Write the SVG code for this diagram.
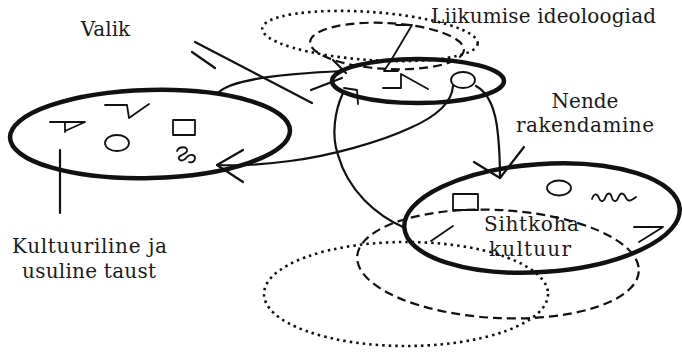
<svg xmlns="http://www.w3.org/2000/svg" width="682" height="352" viewBox="0 0 682 352">
  <style>
    text { font-family: "DejaVu Serif", "Liberation Serif", serif; font-size: 20px; fill: #1a1a1a; }
    .thick { fill: none; stroke: #111; stroke-width: 4.5; }
    .thin { fill: none; stroke: #111; stroke-width: 2.2; stroke-linecap: round; stroke-linejoin: round; }
    .sym { fill: none; stroke: #111; stroke-width: 1.8; stroke-linecap: round; stroke-linejoin: round; }
    .dotted { fill: none; stroke: #111; stroke-width: 2.6; stroke-dasharray: 2.5 4; }
    .dashed { fill: none; stroke: #111; stroke-width: 2.2; stroke-dasharray: 9 5; }
  </style>
  <rect width="682" height="352" fill="#ffffff"/>

  <g id="ideology-outlines">
    <ellipse class="dotted" cx="370" cy="36" rx="108" ry="24" transform="rotate(4 370 36)"/>
    <ellipse class="dashed" cx="387" cy="46" rx="77" ry="23" transform="rotate(3 387 46)"/>
    <path class="sym" d="M396,25 H412 L390,62 L384,71 H398"/>
  </g>

  <g id="destination-outlines">
    <ellipse class="dotted" cx="406" cy="294" rx="142" ry="52"/>
    <ellipse class="dashed" cx="498" cy="264" rx="141" ry="54" transform="rotate(3 498 264)"/>
  </g>

  <g id="background">
    <ellipse class="thick" cx="150" cy="134" rx="140" ry="44" transform="rotate(-1.5 150 134)"/>
    <path class="sym" d="M50,122 H85 L65,131 M65,122 V132"/>
    <path class="sym" d="M105,105 H127 L129,118 L149,104"/>
    <ellipse class="sym" cx="117" cy="143" rx="12" ry="8"/>
    <rect class="sym" x="173" y="120" width="22" height="15"/>
    <path class="sym" d="M177,151 C179,146 188,146 187,151 C186,155 177,155 179,159 C181,162 185,160 187,157 C189,154 195,154 195,158 C195,162 191,163 189,162"/>
    <path class="thin" d="M60,150 V213"/>
  </g>

  <g id="ideologies">
    <ellipse class="thick" cx="418" cy="81" rx="86" ry="22"/>
    <path class="sym" d="M383,88 H401 V74 L428,89"/>
    <path class="sym" d="M344,88 L357,90 L358,104"/>
    <ellipse class="sym" cx="463" cy="80" rx="12" ry="8"/>
  </g>

  <g id="destination">
    <ellipse class="thick" cx="542" cy="218" rx="138" ry="54" transform="rotate(-4 542 218)"/>
    <rect class="sym" x="453" y="194" width="25" height="16"/>
    <ellipse class="sym" cx="559" cy="188" rx="12" ry="7.5"/>
    <path class="sym" d="M592,199 C594,193 597,193 599,198 C601,203 604,202 606,196 C608,192 611,193 612,198 C614,203 617,202 619,196 C621,192 624,193 626,198 C628,202 631,201 636,197"/>
    <path class="sym" d="M431,241 L453,226"/>
    <path class="sym" d="M634,227 H663 L639,242"/>
  </g>

  <g id="connectors">
    <path class="thin" d="M218,93 C230,80 275,74 343,71"/>
    <path class="thin" d="M311,90 L342,78 M333,60 L346,73"/>
    <path class="thin" d="M195,42 L312,103 M192,52 L215,68"/>
    <path class="thin" d="M453,86 C452,100 440,115 410,128 C380,142 330,156 290,161 C260,165 235,166 217,165"/>
    <path class="thin" d="M243,150 L217,165 L243,182"/>
    <path class="thin" d="M476,86 C489,93 496,112 498,135 C500,155 500,168 500,178"/>
    <path class="thin" d="M474,162 L500,178 L524,147"/>
    <path class="thin" d="M343,93 C335,110 331,135 338,155 C348,190 375,215 405,228"/>
  </g>

  <g id="labels">
    <text x="105.5" y="36" text-anchor="middle">Valik</text>
    <text x="431" y="23" textLength="225" lengthAdjust="spacing">Liikumise  ideoloogiad</text>
    <text x="585" y="108" text-anchor="middle">Nende</text>
    <text x="516" y="132" textLength="138" lengthAdjust="spacing">rakendamine</text>
    <text x="12" y="253" textLength="155" lengthAdjust="spacing">Kultuuriline ja</text>
    <text x="22" y="278" textLength="134" lengthAdjust="spacing">usuline taust</text>
    <text x="484" y="231" textLength="95" lengthAdjust="spacing">Sihtkoha</text>
    <text x="489" y="256" textLength="82" lengthAdjust="spacing">kultuur</text>
  </g>
</svg>
